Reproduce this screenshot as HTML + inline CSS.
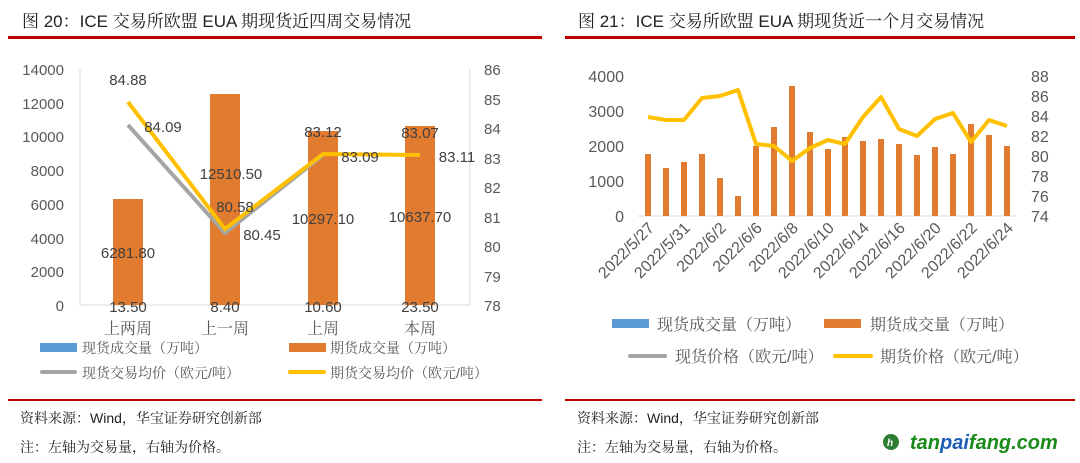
<!DOCTYPE html>
<html><head><meta charset="utf-8"><style>
body{margin:0;background:#fff;}
svg{display:block;font-family:"Liberation Sans","Noto Serif CJK SC",serif;}
</style></head><body>
<svg width="1080" height="463" viewBox="0 0 1080 463" xmlns="http://www.w3.org/2000/svg">
<rect width="1080" height="463" fill="#fff"/>
<!-- titles -->
<text x="22" y="27" font-size="17" fill="#222">图 20：ICE 交易所欧盟 EUA 期现货近四周交易情况</text>
<text x="578" y="27" font-size="17" fill="#222">图 21：ICE 交易所欧盟 EUA 期现货近一个月交易情况</text>
<rect x="8" y="36" width="534" height="3" fill="#c00000"/>
<rect x="565" y="36" width="510" height="3" fill="#c00000"/>
<rect x="8" y="399" width="534" height="2" fill="#c00000"/>
<rect x="565" y="399" width="510" height="2" fill="#c00000"/>

<!-- LEFT CHART -->
<g font-size="15" fill="#595959">
<line x1="80" y1="69" x2="80" y2="305" stroke="#d9d9d9"/>
<line x1="470" y1="69" x2="470" y2="305" stroke="#d9d9d9"/>
<line x1="80" y1="305" x2="470" y2="305" stroke="#d9d9d9"/>
<g text-anchor="end">
<text x="64" y="75">14000</text><text x="64" y="109">12000</text><text x="64" y="142">10000</text>
<text x="64" y="176">8000</text><text x="64" y="210">6000</text><text x="64" y="244">4000</text>
<text x="64" y="277">2000</text><text x="64" y="311">0</text>
</g>
<g>
<text x="484" y="75">86</text><text x="484" y="105">85</text><text x="484" y="134">84</text>
<text x="484" y="164">83</text><text x="484" y="193">82</text><text x="484" y="223">81</text>
<text x="484" y="252">80</text><text x="484" y="282">79</text><text x="484" y="311">78</text>
</g>
</g>
<g fill="#e07b30">
<rect x="113" y="199" width="30" height="106"/>
<rect x="210" y="94" width="30" height="211"/>
<rect x="308" y="131" width="30" height="174"/>
<rect x="405" y="126" width="30" height="179"/>
</g>
<polyline points="128,125 225,233 323,155" fill="none" stroke="#a5a5a5" stroke-width="4"/>
<polyline points="128,102 225,229 323,154 420,155" fill="none" stroke="#ffc000" stroke-width="4"/>
<g font-size="15" fill="#404040" text-anchor="middle">
<text x="128" y="85">84.88</text><text x="163" y="132">84.09</text>
<text x="231" y="179">12510.50</text><text x="235" y="212">80.58</text>
<text x="262" y="240">80.45</text><text x="323" y="137">83.12</text>
<text x="360" y="162">83.09</text><text x="323" y="224">10297.10</text>
<text x="420" y="138">83.07</text><text x="457" y="162">83.11</text>
<text x="420" y="222">10637.70</text><text x="128" y="258">6281.80</text>
<text x="128" y="312">13.50</text><text x="225" y="312">8.40</text>
<text x="323" y="312">10.60</text><text x="420" y="312">23.50</text>
</g>
<g font-size="16" fill="#595959" text-anchor="middle">
<text x="128" y="334">上两周</text><text x="225" y="334">上一周</text>
<text x="323" y="334">上周</text><text x="420" y="334">本周</text>
</g>
<g font-size="14" fill="#595959">
<rect x="40" y="343" width="37" height="9" fill="#5b9bd5"/><text x="82" y="353">现货成交量（万吨）</text>
<rect x="289" y="343" width="37" height="9" fill="#e07b30"/><text x="330" y="353">期货成交量（万吨）</text>
<rect x="40" y="370" width="37" height="4" rx="2" fill="#a5a5a5"/><text x="82" y="378">现货交易均价（欧元/吨）</text>
<rect x="288" y="370" width="38" height="4" rx="2" fill="#ffc000"/><text x="330" y="378">期货交易均价（欧元/吨）</text>
</g>
<g font-size="14" fill="#222">
<text x="20" y="423">资料来源：Wind，华宝证券研究创新部</text>
<text x="20" y="452">注：左轴为交易量，右轴为价格。</text>
<text x="577" y="423">资料来源：Wind，华宝证券研究创新部</text>
<text x="577" y="452">注：左轴为交易量，右轴为价格。</text>
</g>

<!-- RIGHT CHART -->
<line x1="638" y1="216" x2="1016" y2="216" stroke="#d9d9d9"/>
<g font-size="16" fill="#595959">
<g text-anchor="end">
<text x="624" y="82">4000</text><text x="624" y="117">3000</text><text x="624" y="152">2000</text>
<text x="624" y="187">1000</text><text x="624" y="222">0</text>
</g>
<g>
<text x="1031" y="82">88</text><text x="1031" y="102">86</text><text x="1031" y="122">84</text>
<text x="1031" y="142">82</text><text x="1031" y="162">80</text><text x="1031" y="182">78</text>
<text x="1031" y="202">76</text><text x="1031" y="222">74</text>
</g>
</g>
<g fill="#e07b30">
<rect x="645" y="154" width="6" height="62"/>
<rect x="663" y="168" width="6" height="48"/>
<rect x="681" y="162" width="6" height="54"/>
<rect x="699" y="154" width="6" height="62"/>
<rect x="717" y="178" width="6" height="38"/>
<rect x="735" y="196" width="6" height="20"/>
<rect x="753" y="146" width="6" height="70"/>
<rect x="771" y="127" width="6" height="89"/>
<rect x="789" y="86" width="6" height="130"/>
<rect x="807" y="132" width="6" height="84"/>
<rect x="825" y="149" width="6" height="67"/>
<rect x="842" y="137" width="6" height="79"/>
<rect x="860" y="141" width="6" height="75"/>
<rect x="878" y="139" width="6" height="77"/>
<rect x="896" y="144" width="6" height="72"/>
<rect x="914" y="155" width="6" height="61"/>
<rect x="932" y="147" width="6" height="69"/>
<rect x="950" y="154" width="6" height="62"/>
<rect x="968" y="124" width="6" height="92"/>
<rect x="986" y="135" width="6" height="81"/>
<rect x="1004" y="146" width="6" height="70"/>
</g>
<polyline points="648,117 666,120 684,120 702,98 720,96 738,90 756,144 774,146 792,161 810,148 828,140 845,144 863,117 881,97 899,129 917,136 935,119 953,113 971,142 989,120 1007,126" fill="none" stroke="#ffc000" stroke-width="4" stroke-linejoin="round"/>
<g font-size="16" fill="#595959" text-anchor="end">
<text transform="translate(655,229) rotate(-45)">2022/5/27</text>
<text transform="translate(691,229) rotate(-45)">2022/5/31</text>
<text transform="translate(727,229) rotate(-45)">2022/6/2</text>
<text transform="translate(763,229) rotate(-45)">2022/6/6</text>
<text transform="translate(799,229) rotate(-45)">2022/6/8</text>
<text transform="translate(835,229) rotate(-45)">2022/6/10</text>
<text transform="translate(870,229) rotate(-45)">2022/6/14</text>
<text transform="translate(906,229) rotate(-45)">2022/6/16</text>
<text transform="translate(942,229) rotate(-45)">2022/6/20</text>
<text transform="translate(978,229) rotate(-45)">2022/6/22</text>
<text transform="translate(1014,229) rotate(-45)">2022/6/24</text>
</g>
<g font-size="16" fill="#595959">
<rect x="612" y="319" width="37" height="9" fill="#5b9bd5"/><text x="657" y="330">现货成交量（万吨）</text>
<rect x="824" y="319" width="37" height="9" fill="#e07b30"/><text x="870" y="330">期货成交量（万吨）</text>
<rect x="628" y="354" width="39" height="4" rx="2" fill="#a5a5a5"/><text x="675" y="362">现货价格（欧元/吨）</text>
<rect x="833" y="354" width="40" height="4" rx="2" fill="#ffc000"/><text x="880" y="362">期货价格（欧元/吨）</text>
</g>
<!-- watermark -->
<circle cx="891" cy="442" r="8" fill="#2e7d32"/>
<text x="887" y="446" font-size="10" font-weight="bold" fill="#fff" font-style="italic" font-family="'Liberation Sans',sans-serif">h</text>
<text x="910" y="449" font-size="20" font-weight="bold" font-style="italic" fill="#1a8a1a" font-family="'Liberation Sans',sans-serif">tan<tspan fill="#1e5fb4">pai</tspan>fang.com</text>
</svg>
</body></html>
